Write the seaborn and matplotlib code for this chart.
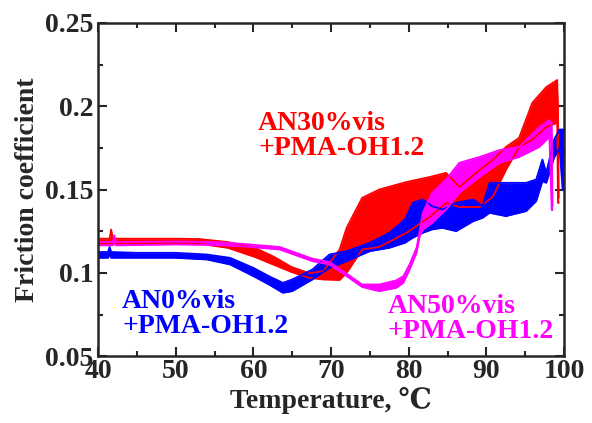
import numpy as np
import pandas as pd
import matplotlib
matplotlib.use("Agg")
import matplotlib.pyplot as plt
import seaborn as sns
from matplotlib.ticker import MultipleLocator

# AN0%vis +PMA-OH1.2 (blue) - lower/upper envelope of the oscillating trace
blue_t = [40, 41.3, 41.5, 41.7, 45, 50, 54, 57, 60, 62, 63.8, 65, 67.6, 69.8, 72, 75,
          77.5, 79.5, 80.5, 81.8, 83, 84.3, 86.1, 88.3, 89.5, 90.4, 92.5, 95.1, 96.4,
          97.2, 97.7, 98.7, 99.4, 99.8, 100]
blue_lo = [0.109, 0.109, 0.111, 0.109, 0.109, 0.109, 0.108, 0.105, 0.098, 0.093, 0.088,
           0.089, 0.096, 0.103, 0.107, 0.113, 0.115, 0.118, 0.121, 0.124, 0.126, 0.127,
           0.125, 0.131, 0.133, 0.136, 0.134, 0.137, 0.143, 0.155, 0.154, 0.169, 0.175,
           0.150, 0.150]
blue_hi = [0.1125, 0.1125, 0.1155, 0.1125, 0.112, 0.112, 0.111, 0.109, 0.103, 0.098, 0.094,
           0.096, 0.102, 0.111, 0.113, 0.118, 0.124, 0.132, 0.142, 0.144, 0.140, 0.138,
           0.142, 0.144, 0.140, 0.154, 0.154, 0.154, 0.156, 0.168, 0.160, 0.180, 0.186,
           0.186, 0.186]

# AN30%vis +PMA-OH1.2 (red)
red_t = [40, 41.5, 41.7, 41.9, 45, 50, 53, 56.7, 60.2, 62.7, 64.9, 67.2, 69, 71.1, 72, 74,
         76.2, 79.7, 82.7, 84.8, 86.5, 89.1, 90.8, 92.5, 94.2, 95.9, 97.7, 99.1, 99.2, 99.3]
red_lo = [0.1175, 0.1175, 0.118, 0.1175, 0.1178, 0.1178, 0.1175, 0.115, 0.1095, 0.1047,
          0.1005, 0.097, 0.096, 0.0957, 0.100, 0.114, 0.1155, 0.124, 0.1335, 0.142, 0.1395,
          0.1395, 0.1455, 0.1617, 0.1755, 0.180, 0.1875, 0.190, 0.142, 0.142]
red_hi = [0.1205, 0.1205, 0.126, 0.1205, 0.1205, 0.1205, 0.1203, 0.1185, 0.115, 0.1095,
          0.1035, 0.0998, 0.101, 0.114, 0.127, 0.145, 0.150, 0.1545, 0.1575, 0.160, 0.1515,
          0.1617, 0.1677, 0.1755, 0.181, 0.202, 0.2115, 0.2157, 0.20, 0.145]

# AN50%vis +PMA-OH1.2 (magenta)
mag_t = [40, 41.9, 42.1, 42.3, 50, 55, 58.9, 63.4, 64.9, 67.6, 69.8, 72, 74, 76.2, 78.4,
         79.3, 80.1, 81, 81.4, 81.8, 83, 84.8, 86.5, 89.1, 91.7, 94.2, 96.8, 98.1, 98.4, 98.5]
mag_lo = [0.1165, 0.1165, 0.118, 0.1165, 0.117, 0.1167, 0.1158, 0.114, 0.1115, 0.107,
          0.105, 0.098, 0.0915, 0.089, 0.091, 0.094, 0.102, 0.112, 0.122, 0.1257, 0.130,
          0.138, 0.148, 0.1575, 0.166, 0.1695, 0.1755, 0.1815, 0.1377, 0.1377]
mag_hi = [0.1185, 0.1185, 0.1225, 0.1185, 0.1188, 0.1185, 0.1173, 0.1155, 0.113, 0.1085,
          0.1065, 0.0995, 0.093, 0.093, 0.0955, 0.098, 0.105, 0.115, 0.125, 0.136, 0.148,
          0.156, 0.166, 0.1695, 0.1737, 0.1755, 0.1875, 0.1917, 0.19, 0.14]

xticks = [40, 50, 60, 70, 80, 90, 100]
yticks = [0.05, 0.1, 0.15, 0.2, 0.25]
ytick_labels = ["0.05", "0.1", "0.15", "0.2", "0.25"]

sns.set_style("ticks")
plt.rcParams['font.family'] = ['Liberation Serif', 'DejaVu Serif']
plt.rcParams['font.weight'] = 'bold'
plt.rcParams['axes.labelweight'] = 'bold'

fig = plt.figure(figsize=(5.92, 4.23), dpi=100)
ax = fig.add_axes([0.1655, 0.158, 0.7875, 0.788])

series = [
    ("red", red_t, red_lo, red_hi),
    ("blue", blue_t, blue_lo, blue_hi),
    ("magenta", mag_t, mag_lo, mag_hi),
]
for color, t, lo, hi in series:
    # band covering the stick-slip oscillation
    ax.fill_between(t, lo, hi, color=color, lw=0)
    d = pd.DataFrame({"t": t, "lo": lo, "hi": hi})
    sns.lineplot(data=d, x="t", y="lo", color=color, lw=1.3, ax=ax)
    sns.lineplot(data=d, x="t", y="hi", color=color, lw=1.3, ax=ax)

ax.text(60.6, 0.197, "AN30%vis\n+PMA-OH1.2", color="red", fontsize=20, fontweight="bold",
        va="top", ha="left", linespacing=1.0)
ax.text(43.1, 0.0905, "AN0%vis\n+PMA-OH1.2", color="blue", fontsize=20, fontweight="bold",
        va="top", ha="left", linespacing=1.0)
ax.text(77.3, 0.0875, "AN50%vis\n+PMA-OH1.2", color="magenta", fontsize=20, fontweight="bold",
        va="top", ha="left", linespacing=1.0)

ax.set_xlim(40, 100)
ax.set_ylim(0.05, 0.25)
ax.set_xticks(xticks)
ax.set_yticks(yticks)
ax.set_yticklabels(ytick_labels)
ax.xaxis.set_minor_locator(MultipleLocator(5))
ax.yaxis.set_minor_locator(MultipleLocator(0.025))
ax.tick_params(which="both", direction="in", top=True, right=True, width=1.5,
               labelsize=20)
ax.tick_params(which="major", length=6.5)
ax.tick_params(which="minor", length=3.5)
ax.tick_params(axis="x", pad=2)
ax.tick_params(axis="y", pad=3)
for s in ax.spines.values():
    s.set_linewidth(1.8)
    s.set_visible(True)

ax.set_xlabel("Temperature, \u2103", fontsize=20, fontweight="bold", labelpad=2)
ax.set_ylabel("Friction coefficient", fontsize=20, fontweight="bold", labelpad=4)

plt.savefig("out.png", dpi=100)
